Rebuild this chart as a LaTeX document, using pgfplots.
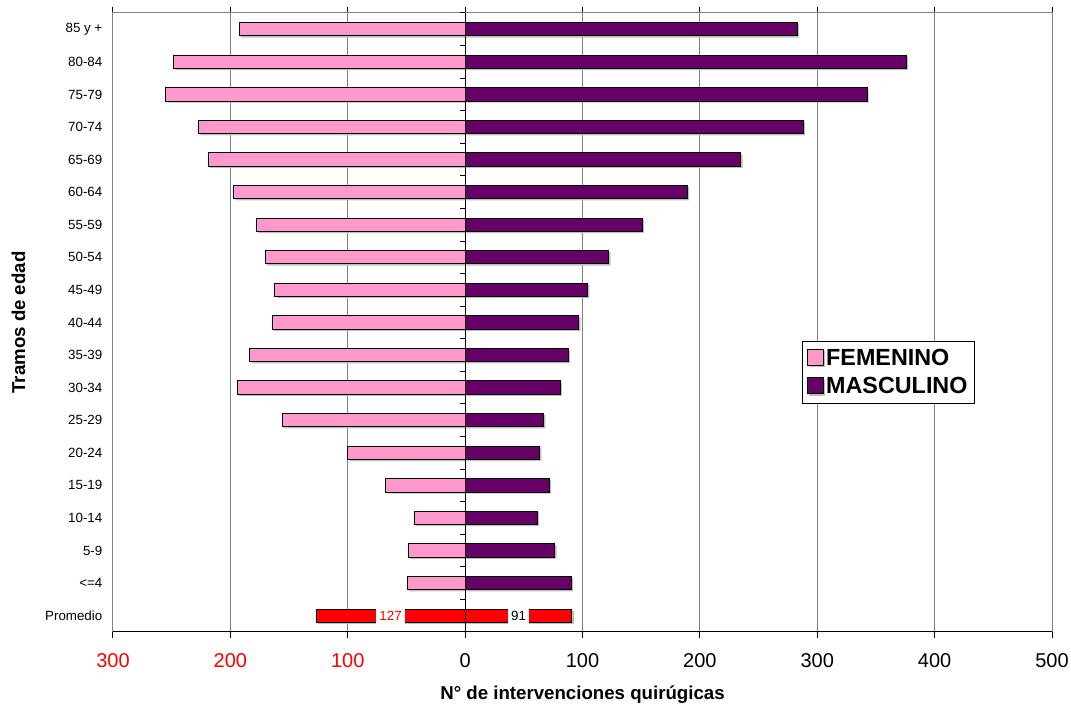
\documentclass[border=0pt]{standalone}
\usepackage{pgfplots}
\pgfplotsset{compat=1.18}
\usepackage{pgfplotstable}
\usepackage{fontspec}
\setmainfont{Liberation Sans}
\definecolor{fem}{HTML}{FF99CC}
\definecolor{mas}{HTML}{660066}
\definecolor{gridc}{HTML}{808080}

% y: 1 = <=4 ... 18 = 85 y +
\pgfplotstableread{
y   f       m
1   -49.5   90.5
2   -48     76.5
3   -43     61.5
4   -67.5   72
5   -100    63.5
6   -156    67
7   -194    81
8   -183.5  88
9   -164    97
10  -162    104.5
11  -170.5  122.5
12  -178    151
13  -197    189.5
14  -219    235
15  -227    288
16  -255    342.5
17  -248.5  376
18  -192.5  283
}\datatab

\pgfplotstableread{
y   f     m    fl    ml
0   -127  91   -63.5 45.5
}\promtab

\tikzset{barshadow/.style={preaction={draw=none, fill=black!25, transform canvas={xshift=1.2pt, yshift=-1.2pt}}}}

\begin{document}
\begin{tikzpicture}
\begin{axis}[
  name=ax,
  scale only axis, width=704.25pt, height=464.25pt,
  xmin=-300, xmax=500, ymin=-0.5, ymax=18.5,
  xtick={-300,-200,...,500},
  xticklabels={\textcolor{red}{300},\textcolor{red}{200},\textcolor{red}{100},0,100,200,300,400,500},
  ytick={0,...,18},
  yticklabels={Promedio,{<=4},5-9,10-14,15-19,20-24,25-29,30-34,35-39,40-44,45-49,50-54,55-59,60-64,65-69,70-74,75-79,80-84,{85 y +}},
  xmajorgrids, grid style={gridc, line width=0.75pt},
  axis line style={gridc, line width=0.75pt},
  tick align=outside, major tick length=4.5pt,
  xtick style={black, line width=0.75pt},
  ytick style={draw=none},
  xticklabel style={font=\fontsize{15}{18}\selectfont, anchor=center, yshift=-17pt},
  yticklabel style={font=\fontsize{10}{12}\selectfont, anchor=east},
  xlabel={N° de intervenciones quirúgicas},
  xlabel style={at={(axis description cs:0.5,-0.1018)}, anchor=center, font=\bfseries\fontsize{14}{17}\selectfont},
  ylabel={Tramos de edad},
  ylabel style={at={(axis description cs:-0.1006,0.5)}, anchor=center, rotate=0, font=\bfseries\fontsize{14}{17}\selectfont},
  legend style={at={(0.7338,0.4706)}, anchor=north west, draw=black, line width=0.75pt, fill=white,
    font=\bfseries\fontsize{17.5}{20}\selectfont, inner xsep=3pt, inner ysep=4pt, row sep=3.5pt},
  legend cell align=left,
  clip=false,
]
\addplot[xbar, bar width=10pt, bar shift=0pt, fill=fem, draw=black, line width=0.75pt, barshadow,
  legend image code/.code={\draw[fill=fem, draw=black, line width=0.75pt] (0pt,-5.5pt) rectangle (12pt,6.5pt);}]
  table[x=f, y=y] {\datatab};
\addlegendentry{FEMENINO}
\addplot[xbar, bar width=10pt, bar shift=0pt, fill=mas, draw=black, line width=0.75pt, barshadow,
  legend image code/.code={\draw[fill=mas, draw=black, line width=0.75pt] (0pt,-5.5pt) rectangle (12pt,6.5pt);}]
  table[x=m, y=y] {\datatab};
\addlegendentry{MASCULINO}
\addplot[xbar, bar width=10pt, bar shift=0pt, fill=red, draw=black, line width=0.75pt, barshadow, forget plot]
  table[x=f, y=y] {\promtab};
\addplot[xbar, bar width=10pt, bar shift=0pt, fill=red, draw=black, line width=0.75pt, barshadow, forget plot]
  table[x=m, y=y] {\promtab};
\addplot[draw=none, mark=none, forget plot, nodes near coords={127}, point meta=x,
  nodes near coords style={anchor=center, fill=white, inner xsep=2.5pt, inner ysep=0pt, minimum height=12.5pt, text=red, font=\fontsize{10}{12}\selectfont}]
  table[x=fl, y=y] {\promtab};
\addplot[draw=none, mark=none, forget plot, nodes near coords={91}, point meta=x,
  nodes near coords style={anchor=center, fill=white, inner xsep=2.5pt, inner ysep=0pt, minimum height=12.5pt, text=black, font=\fontsize{10}{12}\selectfont}]
  table[x=ml, y=y] {\promtab};
\draw[black, line width=0.75pt] (rel axis cs:0,0) -- (rel axis cs:1,0);
\draw[black, line width=0.75pt] (axis cs:0,-0.5) -- (axis cs:0,18.5);
\pgfplotsinvokeforeach{-0.5,0.5,...,18.5}{
  \draw[black, line width=0.75pt] (axis cs:0,#1) -- ([xshift=-3.5pt]axis cs:0,#1);
}
\end{axis}
\pgfresetboundingbox
\path[use as bounding box] ([xshift=-84.75pt,yshift=-54.75pt]ax.south west) rectangle ([xshift=14.25pt,yshift=9.75pt]ax.north east);
\end{tikzpicture}
\end{document}
